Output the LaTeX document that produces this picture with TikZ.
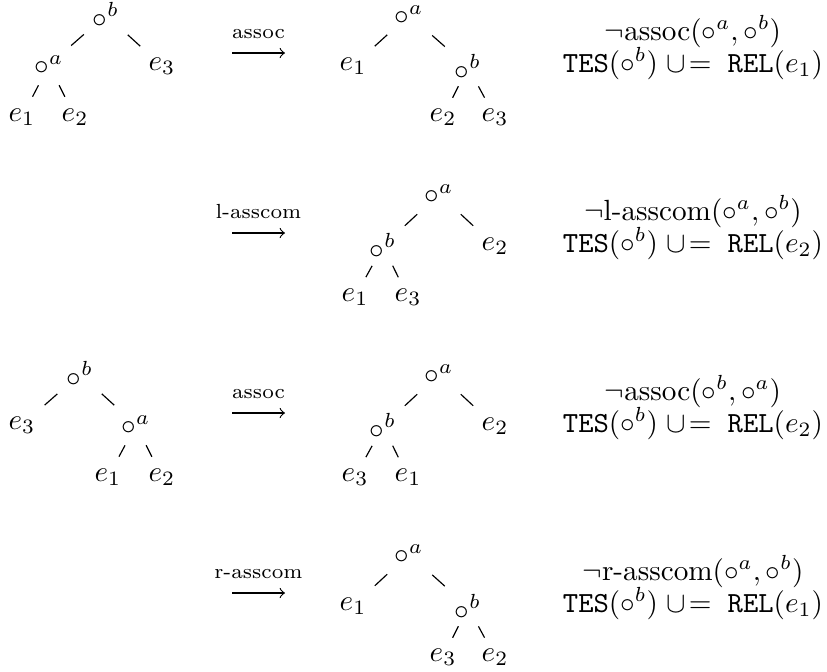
\documentclass[tikz,border=0pt]{standalone}
\usetikzlibrary{calc}
\begin{document}
\begin{tikzpicture}[x=0.3425pt, y=-0.3425pt,
    lbl/.style={inner sep=0pt},
    twig/.style={to path={($(\tikztostart)!.5!(\tikztotarget)!#1!(\tikztostart)$)
        -- ($(\tikztostart)!.5!(\tikztotarget)!#1!(\tikztotarget)$)}},
    twig/.default=2.9pt,
    rulename/.style={anchor=base, yshift=5.1pt, inner sep=0pt, font=\scriptsize},
    cond/.style={anchor=base, inner sep=0pt}]
  \useasboundingbox (0,0) rectangle (827,672);
  \def\tes{\mathtt{TES}(\circ^b)\;\cup\!=\;\mathtt{REL}}
  % row 1
  \node[lbl] (t1b) at (106,15) {$\circ^b$};
  \node[lbl] (t1a) at (49,65) {$\circ^a$};
  \node[lbl] (t1e3) at (162,66) {$e_3$};
  \node[lbl] (t1e1) at (22,117) {$e_1$};
  \node[lbl] (t1e2) at (75,117) {$e_2$};
  \draw (t1b) to[twig] (t1a) (t1b) to[twig] (t1e3);
  \draw (t1a) to[twig=2.2pt] (t1e1) (t1a) to[twig=2.2pt] (t1e2);
  \coordinate (s1) at (232,53);
  \coordinate (f1) at (285,53);
  \draw[-to] (s1) -- node[rulename]{assoc} (f1);
  \node[lbl] (t2a) at (409,15) {$\circ^a$};
  \node[lbl] (t2e1) at (353,66) {$e_1$};
  \node[lbl] (t2b) at (468,67) {$\circ^b$};
  \node[lbl] (t2e2) at (443,117) {$e_2$};
  \node[lbl] (t2e3) at (495,117) {$e_3$};
  \draw (t2a) to[twig] (t2e1) (t2a) to[twig] (t2b);
  \draw (t2b) to[twig=2.2pt] (t2e2) (t2b) to[twig=2.2pt] (t2e3);
  \node[cond] (c1) at (693,40) {$\neg\mbox{assoc}(\circ^a,\circ^b)$};
  \node[cond] (u1) at (693,72) {$\tes(e_1)$};
  % row 2
  \coordinate (s2) at (232,233);
  \coordinate (f2) at (285,233);
  \draw[-to] (s2) -- node[rulename]{l-asscom} (f2);
  \node[lbl] (t3a) at (439,194) {$\circ^a$};
  \node[lbl] (t3b) at (383,246) {$\circ^b$};
  \node[lbl] (t3e2) at (495,246) {$e_2$};
  \node[lbl] (t3e1) at (355,297) {$e_1$};
  \node[lbl] (t3e3) at (408,297) {$e_3$};
  \draw (t3a) to[twig] (t3b) (t3a) to[twig] (t3e2);
  \draw (t3b) to[twig=2.2pt] (t3e1) (t3b) to[twig=2.2pt] (t3e3);
  \node[cond] (c2) at (693,220) {$\neg\mbox{l-asscom}(\circ^a,\circ^b)$};
  \node[cond] (u2) at (693,252) {$\tes(e_2)$};
  % row 3
  \node[lbl] (t4b) at (80,374) {$\circ^b$};
  \node[lbl] (t4e3) at (22,425) {$e_3$};
  \node[lbl] (t4a) at (136,425) {$\circ^a$};
  \node[lbl] (t4e1) at (108,477) {$e_1$};
  \node[lbl] (t4e2) at (162,477) {$e_2$};
  \draw (t4b) to[twig] (t4e3) (t4b) to[twig] (t4a);
  \draw (t4a) to[twig=2.2pt] (t4e1) (t4a) to[twig=2.2pt] (t4e2);
  \coordinate (s3) at (232,413);
  \coordinate (f3) at (285,413);
  \draw[-to] (s3) -- node[rulename]{assoc} (f3);
  \node[lbl] (t5a) at (439,374) {$\circ^a$};
  \node[lbl] (t5b) at (383,426) {$\circ^b$};
  \node[lbl] (t5e2) at (495,426) {$e_2$};
  \node[lbl] (t5e3) at (355,477) {$e_3$};
  \node[lbl] (t5e1) at (408,477) {$e_1$};
  \draw (t5a) to[twig] (t5b) (t5a) to[twig] (t5e2);
  \draw (t5b) to[twig=2.2pt] (t5e3) (t5b) to[twig=2.2pt] (t5e1);
  \node[cond] (c3) at (693,400) {$\neg\mbox{assoc}(\circ^b,\circ^a)$};
  \node[cond] (u3) at (693,432) {$\tes(e_2)$};
  % row 4
  \coordinate (s4) at (232,593);
  \coordinate (f4) at (285,593);
  \draw[-to] (s4) -- node[rulename]{r-asscom} (f4);
  \node[lbl] (t6a) at (409,554) {$\circ^a$};
  \node[lbl] (t6e1) at (353,606) {$e_1$};
  \node[lbl] (t6b) at (468,607) {$\circ^b$};
  \node[lbl] (t6e3) at (443,657) {$e_3$};
  \node[lbl] (t6e2) at (495,657) {$e_2$};
  \draw (t6a) to[twig] (t6e1) (t6a) to[twig] (t6b);
  \draw (t6b) to[twig=2.2pt] (t6e3) (t6b) to[twig=2.2pt] (t6e2);
  \node[cond] (c4) at (693,580) {$\neg\mbox{r-asscom}(\circ^a,\circ^b)$};
  \node[cond] (u4) at (693,612) {$\tes(e_1)$};
\end{tikzpicture}
\end{document}
